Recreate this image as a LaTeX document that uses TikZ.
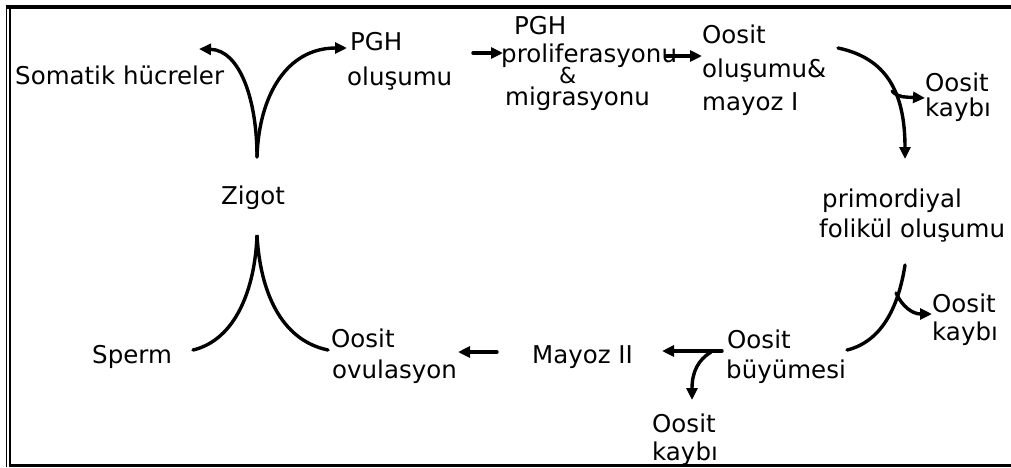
\documentclass[tikz,border=0pt]{standalone}
\usepackage{fontspec}
\setmainfont{DejaVu Sans}
\usetikzlibrary{arrows.meta}
\begin{document}
\begin{tikzpicture}[x=1pt,y=-1pt,
  lbl/.style={anchor=base west, inner sep=0pt, font=\fontsize{24.5}{29}\selectfont},
  small/.style={anchor=base west, inner sep=0pt},
  conn/.style={line width=3.4pt, line cap=round},
  tip/.style={-{Triangle[length=12pt,width=11pt]}}]
\useasboundingbox (0,0) rectangle (1011,467);
\fill[white] (0,0) rectangle (1011,467);
% frame
\draw[line width=1.6pt] (6.3,4.7) -- (6.3,467);
\draw[line width=2.2pt] (9.7,8) -- (9.7,465);
\draw[line width=4pt] (5.7,6.7) -- (1011,6.7);
\draw[line width=2.8pt] (8.7,465.6) -- (1011,465.6);
% texts
\node[lbl] (som) at (15,84) {Somatik hücreler};
\node[lbl] (pghA) at (350,50) {PGH};
\node[lbl] (pghB) at (347,85) {oluşumu};
\node[lbl] (prA) at (514,34) {PGH};
\node[lbl] (prB) at (501,62) {proliferasyonu};
\node[small] (prAmp) at (559,83) {\fontsize{22}{26}\selectfont\&};
\node[lbl] (prC) at (505,105) {migrasyonu};
\node[lbl] (ooA) at (702,43) {Oosit};
\node[lbl] (ooB) at (702,77) {oluşumu\&};
\node[lbl] (ooC) at (702,110) {mayoz I};
\node[lbl] (k1A) at (925,91) {Oosit};
\node[lbl] (k1B) at (925,116) {kaybı};
\node[lbl] (pfA) at (822,207) {primordiyal};
\node[lbl] (pfB) at (819,237) {folikül oluşumu};
\node[lbl] (zig) at (221,204) {Zigot};
\node[lbl] (sperm) at (92,363) {Sperm};
\node[lbl] (ovA) at (331,347) {Oosit};
\node[lbl] (ovB) at (332,378) {ovulasyon};
\node[lbl] (may) at (532,363) {Mayoz II};
\node[lbl] (buA) at (727,348) {Oosit};
\node[lbl] (buB) at (726,378) {büyümesi};
\node[lbl] (k2A) at (932,312) {Oosit};
\node[lbl] (k2B) at (932,340) {kaybı};
\node[lbl] (k3A) at (652,432) {Oosit};
\node[lbl] (k3B) at (652,460) {kaybı};
% connector end points
\coordinate (zs) at (257,157);
\coordinate (zl) at (199,49);
\coordinate (zr) at (347,48);
\coordinate (a1s) at (473,53);
\coordinate (a1e) at (503,53);
\coordinate (a2s) at (666,56);
\coordinate (a2e) at (702,56);
\coordinate (ds) at (838,48);
\coordinate (de) at (905,159);
\coordinate (dbs) at (892,91);
\coordinate (dbe) at (925,98);
\coordinate (es) at (905,265);
\coordinate (ee) at (847,350);
\coordinate (ebs) at (896,293);
\coordinate (ebe) at (932,314);
\coordinate (fs) at (722,351);
\coordinate (fe) at (662,351);
\coordinate (fbs) at (711,352);
\coordinate (fbe) at (692,400);
\coordinate (gs) at (497,352);
\coordinate (ge) at (458,352);
\coordinate (hl) at (193,350);
\coordinate (hapex) at (257,235);
\coordinate (hr) at (328,350);
% connectors
\draw[conn,tip] (zs) .. controls (257,100) and (240,50) .. (zl);
\draw[conn,tip] (zs) .. controls (259,95) and (287,48) .. (zr);
\draw[conn,tip] (a1s) -- (a1e);
\draw[conn,tip] (a2s) -- (a2e);
\draw[conn,tip] (ds) .. controls (885,58) and (905,90) .. (de);
\draw[conn,tip] (dbs) .. controls (898,98) and (906,97) .. (dbe);
\draw[conn] (es) .. controls (898,310) and (880,342) .. (ee);
\draw[conn,tip] (ebs) .. controls (902,306) and (912,314) .. (ebe);
\draw[conn,tip] (fs) -- (fe);
\draw[conn,tip] (fbs) .. controls (698,360) and (692,372) .. (fbe);
\draw[conn,tip] (gs) -- (ge);
\draw[conn,line join=miter] (hl) .. controls (235,340) and (255,290) .. (hapex)
   .. controls (260,290) and (280,340) .. (hr);
\end{tikzpicture}
\end{document}
